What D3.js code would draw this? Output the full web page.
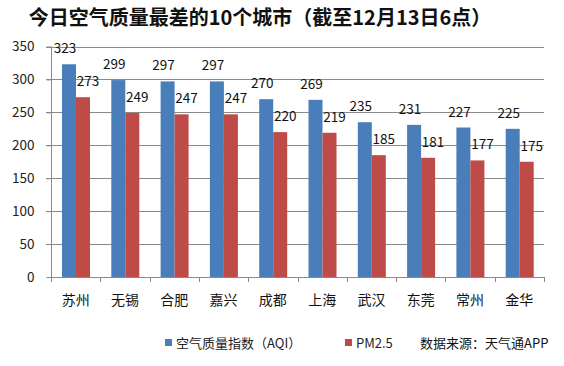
<!DOCTYPE html>
<html><head><meta charset="utf-8">
<script src="https://cdn.jsdelivr.net/npm/d3@7/dist/d3.min.js"></script>
<style>
body{margin:0;background:#fff;}
text{font-family:"Microsoft YaHei","Noto Sans CJK SC","Noto Sans",sans-serif;}
</style></head>
<body><svg id="c" width="564" height="366"></svg>
<script>
const title = "今日空气质量最差的10个城市（截至12月13日6点）";
const cities = ["苏州","无锡","合肥","嘉兴","成都","上海","武汉","东莞","常州","金华"];
const aqi = [323,299,297,297,270,269,235,231,227,225];
const pm25 = [273,249,247,247,220,219,185,181,177,175];
const seriesNames = ["空气质量指数（AQI）","PM2.5"];
const yTicks = [0,50,100,150,200,250,300,350];
const source = "数据来源：天气通APP";

(function(){
const svg = d3.select("#c");
svg.append("rect").attr("width",564).attr("height",366).attr("fill","#fff");
const pl = 51, pr = 544, pt = 46.5, pb = 277;
const x = d3.scaleBand().domain(cities).range([pl,pr]);
const y = d3.scaleLinear().domain([0,350]).range([pb,pt]);
const colors = ["#4a7ebb","#be4b48"];

svg.append("text").attr("x",260).attr("y",25).attr("text-anchor","middle")
  .attr("font-size",20).attr("font-weight","bold").attr("fill","#111").text(title);

// grid
svg.append("g").selectAll("line").data(yTicks.filter(d=>d>0)).join("line")
  .attr("x1",pl-5).attr("x2",pr).attr("y1",d=>Math.round(y(d))+0.5).attr("y2",d=>Math.round(y(d))+0.5)
  .attr("stroke","#8a8a8a").attr("stroke-width",1);

// y axis
const ya = svg.append("g").attr("transform",`translate(${pl+0.5},0)`)
  .call(d3.axisLeft(y).tickValues(yTicks).tickSize(5).tickPadding(12));
ya.select(".domain").attr("stroke","#8a8a8a").attr("d",`M0,${pt}V${pb}`);
ya.selectAll(".tick line").attr("stroke","#8a8a8a");
ya.selectAll(".tick text").attr("font-size",13.5).attr("fill","#222");

// bars
const bw = 14, off = 11;
[aqi,pm25].forEach((vals,si)=>{
  svg.append("g").selectAll("rect").data(vals).join("rect")
    .attr("x",(d,i)=>x(cities[i])+off+si*bw)
    .attr("y",d=>y(d)).attr("width",bw).attr("height",d=>pb-y(d))
    .attr("fill",colors[si]);
  svg.append("g").selectAll("text").data(vals).join("text")
    .attr("x",(d,i)=>x(cities[i])+off+si*bw+bw/2+(si===0?-4:5))
    .attr("y",d=>y(d)-11).attr("text-anchor","middle")
    .attr("font-size",13.5).attr("fill","#111").text(d=>d);
});

// x axis
const xa = svg.append("g").attr("transform",`translate(0,${pb+0.5})`)
  .call(d3.axisBottom(x).tickSize(0).tickPadding(18));
xa.select(".domain").attr("stroke","#8a8a8a").attr("d",`M${pl},0H${pr}`);
xa.selectAll(".tick text").attr("font-size",14).attr("fill","#111");
svg.append("g").selectAll("line").data(d3.range(cities.length+1)).join("line")
  .attr("x1",i=>Math.round(pl+i*x.step())+0.5).attr("x2",i=>Math.round(pl+i*x.step())+0.5)
  .attr("y1",pb).attr("y2",pb+5).attr("stroke","#8a8a8a");

// legend
const leg = [{x:165,t:seriesNames[0]},{x:345,t:seriesNames[1]}];
leg.forEach((l,i)=>{
  svg.append("rect").attr("x",l.x).attr("y",339).attr("width",7).attr("height",7).attr("fill",colors[i]);
  svg.append("text").attr("x",l.x+11).attr("y",348).attr("font-size",13).attr("fill","#222").text(l.t);
});
svg.append("text").attr("x",420).attr("y",348).attr("font-size",13).attr("fill","#111").text(source);
})();
</script></body></html>
